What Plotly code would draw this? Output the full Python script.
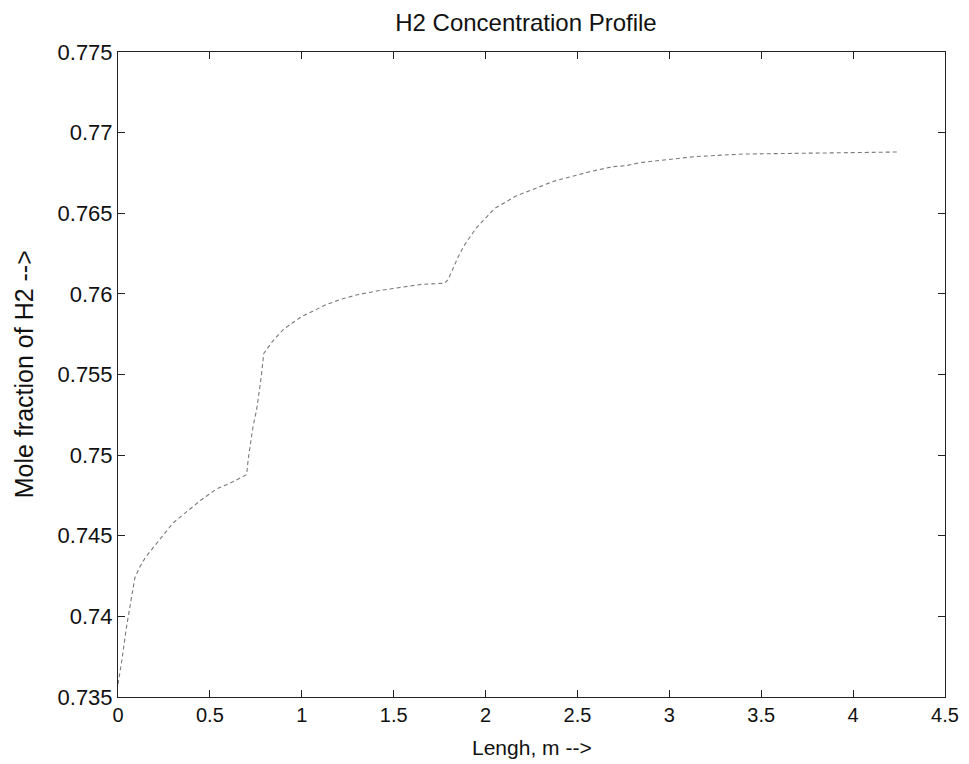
import plotly.graph_objects as go

length_m = [0.0, 0.02, 0.047, 0.074, 0.092, 0.12, 0.152, 0.30, 0.45, 0.536, 0.636, 0.70, 0.708,
            0.735, 0.754, 0.78, 0.793, 0.835, 0.9, 1.0, 1.134, 1.215, 1.297, 1.406, 1.468,
            1.587, 1.65, 1.777, 1.795, 1.818, 1.849, 1.88, 1.95, 2.05, 2.166, 2.37, 2.465,
            2.561, 2.692, 2.764, 2.842, 2.942, 3.009, 3.136, 3.299, 3.40, 3.652, 3.94, 4.25]
h2_fraction = [0.7358, 0.7372, 0.7394, 0.7412, 0.7424, 0.7431, 0.7437, 0.7458, 0.7472, 0.7479,
               0.7484, 0.7488, 0.7497, 0.7518, 0.7528, 0.7549, 0.7563, 0.75697, 0.7578, 0.7586,
               0.75934, 0.75967, 0.75993, 0.76018, 0.76028, 0.7605, 0.76059, 0.76066, 0.76086,
               0.76144, 0.76225, 0.76294, 0.7641, 0.7653, 0.76607, 0.76698, 0.76727, 0.76756,
               0.76789, 0.76795, 0.76814, 0.76828, 0.76836, 0.76851, 0.76861, 0.76867, 0.76871,
               0.76875, 0.7688]

x_ticks = [0, 0.5, 1, 1.5, 2, 2.5, 3, 3.5, 4, 4.5]
x_tick_labels = ["0", "0.5", "1", "1.5", "2", "2.5", "3", "3.5", "4", "4.5"]
y_ticks = [0.735, 0.74, 0.745, 0.75, 0.755, 0.76, 0.765, 0.77, 0.775]
y_tick_labels = ["0.735", "0.74", "0.745", "0.75", "0.755", "0.76", "0.765", "0.77", "0.775"]

fig = go.Figure()
fig.add_trace(go.Scatter(
    x=length_m, y=h2_fraction, mode="lines",
    line=dict(color="#7a7a7a", width=1.1, dash="4px,3px"),
    showlegend=False,
))

font_family = "Liberation Sans, Arial, sans-serif"
fig.update_layout(
    width=961, height=756,
    margin=dict(l=110, r=24, t=44, b=67, autoexpand=False),
    paper_bgcolor="white", plot_bgcolor="white",
    title=dict(text="H2 Concentration Profile", x=0.539, xanchor="center", y=0.981,
               yanchor="middle", font=dict(family=font_family, size=24, color="#111")),
    font=dict(family=font_family, color="#111"),
    annotations=[
        dict(text="Lengh, m -->", xref="paper", yref="paper", x=0.50, y=-0.078,
             xanchor="center", yanchor="middle", showarrow=False,
             font=dict(size=21, family=font_family, color="#111")),
        dict(text="Mole fraction of H2 -->", xref="paper", yref="paper", x=-0.114, y=0.5,
             xanchor="center", yanchor="middle", showarrow=False, textangle=-90,
             font=dict(size=25, family=font_family, color="#111")),
    ],
)
fig.update_xaxes(
    range=[0, 4.5], tickvals=x_ticks, ticktext=x_tick_labels, automargin=False,
    ticks="inside", ticklen=7, tickcolor="#222", showline=True, linecolor="#222",
    linewidth=1, mirror="ticks", showgrid=False, zeroline=False,
    tickfont=dict(size=20, family=font_family, color="#111"),
)
fig.update_yaxes(
    range=[0.735, 0.775], tickvals=y_ticks, ticktext=y_tick_labels, automargin=False,
    ticks="inside", ticklen=7, tickcolor="#222", showline=True, linecolor="#222",
    linewidth=1, mirror="ticks", showgrid=False, zeroline=False,
    tickfont=dict(size=22, family=font_family, color="#111"),
)

fig.write_html("out.html")
